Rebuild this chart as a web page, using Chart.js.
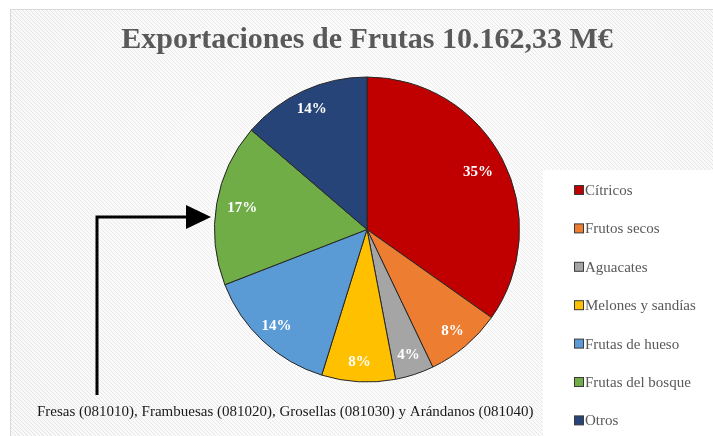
<!DOCTYPE html>
<html>
<head>
<meta charset="utf-8">
<script src="https://cdn.jsdelivr.net/npm/chart.js@4.4.0/dist/chart.umd.min.js"></script>
<style>
html,body{margin:0;padding:0;background:#fff;}
#wrap{width:713px;height:436px;position:relative;}
</style>
</head>
<body>
<div id="wrap"><canvas id="c" width="713" height="436"></canvas></div>
<script>
const titleText = 'Exportaciones de Frutas 10.162,33 M€';
const noteText = 'Fresas (081010), Frambuesas (081020), Grosellas (081030) y Arándanos (081040)';
const categories = ['Cítricos','Frutos secos','Aguacates','Melones y sandías','Frutas de hueso','Frutas del bosque','Otros'];
const shares = [34.8, 8.1, 4.1, 7.8, 14.3, 17.2, 13.7];
const colors = ['#C00000','#ED7D31','#A5A5A5','#FFC000','#5B9BD5','#70AD47','#264478'];

const serif = '"Liberation Serif","DejaVu Serif",serif';

function makePattern(ctx){
  const p = document.createElement('canvas');
  p.width = 4; p.height = 4;
  const g = p.getContext('2d');
  g.fillStyle = '#f9f9f9';
  g.fillRect(0,0,4,4);
  g.strokeStyle = '#e4e4e4';
  g.lineWidth = 1;
  g.beginPath();
  g.moveTo(-1,-1); g.lineTo(5,5);
  g.moveTo(-1,3); g.lineTo(1,5);
  g.moveTo(3,-1); g.lineTo(5,1);
  g.stroke();
  return ctx.createPattern(p,'repeat');
}

const bgPlugin = {
  id:'bg',
  beforeDraw(chart){
    const ctx = chart.ctx;
    ctx.save();
    ctx.fillStyle = '#fff';
    ctx.fillRect(0,0,chart.width,chart.height);
    ctx.fillStyle = makePattern(ctx);
    ctx.fillRect(10.5,9.5,chart.width,chart.height);
    const rg = ctx.createRadialGradient(360,220,0,360,220,380);
    rg.addColorStop(0,'rgba(255,255,255,0.55)');
    rg.addColorStop(1,'rgba(255,255,255,0)');
    ctx.fillStyle = rg;
    ctx.fillRect(10.5,9.5,chart.width,chart.height);
    ctx.strokeStyle = '#d9d9d9';
    ctx.lineWidth = 1;
    ctx.strokeRect(10.5,9.5,chart.width+5,chart.height+5);
    // title
    ctx.fillStyle = '#595959';
    ctx.font = 'bold 30px ' + serif;
    ctx.textAlign = 'center';
    ctx.textBaseline = 'alphabetic';
    ctx.fillText(titleText, 367, 48);
    // legend box
    ctx.fillStyle = '#ffffff';
    ctx.fillRect(543,170,chart.width-543,chart.height-170);
    ctx.restore();
  },
  afterDraw(chart){
    const ctx = chart.ctx;
    const meta = chart.getDatasetMeta(0);
    ctx.save();
    // data labels
    ctx.font = 'bold 15px ' + serif;
    ctx.fillStyle = '#ffffff';
    ctx.textAlign = 'center';
    ctx.textBaseline = 'middle';
    const ds = chart.data.datasets[0].data;
    const total = ds.reduce((a,b)=>a+b,0);
    meta.data.forEach((arc,i)=>{
      const p = arc.getProps(['x','y','startAngle','endAngle','outerRadius'],true);
      const mid = (p.startAngle+p.endAngle)/2;
      const r = p.outerRadius*(i===0?0.82:(i===5?0.83:0.87));
      const x = p.x + Math.cos(mid)*r;
      const y = p.y + Math.sin(mid)*r;
      ctx.fillText(Math.round(ds[i]/total*100)+'%', x, y);
    });
    // legend
    ctx.font = '15px ' + serif;
    ctx.textAlign = 'left';
    ctx.textBaseline = 'middle';
    chart.data.labels.forEach((lab,i)=>{
      const cy = 190 + i*38.4;
      ctx.fillStyle = chart.data.datasets[0].backgroundColor[i];
      ctx.fillRect(574.5, cy-4.5, 9, 9);
      ctx.strokeStyle = '#3a3a3a';
      ctx.lineWidth = 1;
      ctx.strokeRect(574.5, cy-4.5, 9, 9);
      ctx.fillStyle = '#595959';
      ctx.fillText(lab, 585, cy+1);
    });
    // arrow
    ctx.strokeStyle = '#000';
    ctx.lineWidth = 3;
    ctx.beginPath();
    ctx.moveTo(97, 395);
    ctx.lineTo(97, 217);
    ctx.lineTo(188, 217);
    ctx.stroke();
    ctx.fillStyle = '#000';
    ctx.beginPath();
    ctx.moveTo(186, 205);
    ctx.lineTo(211, 217);
    ctx.lineTo(186, 229);
    ctx.closePath();
    ctx.fill();
    // note
    ctx.font = '15px ' + serif;
    ctx.fillStyle = '#1a1a1a';
    ctx.textAlign = 'left';
    ctx.fillText(noteText, 37, 412);
    ctx.restore();
  }
};

new Chart(document.getElementById('c'), {
  type:'pie',
  data:{
    labels: categories,
    datasets:[{
      data: shares,
      backgroundColor: colors,
      borderColor: '#262626',
      borderWidth: 1
    }]
  },
  options:{
    responsive:false,
    animation:false,
    layout:{padding:{left:214, right:193, top:76, bottom:53}},
    plugins:{legend:{display:false}, title:{display:false}, tooltip:{enabled:false}}
  },
  plugins:[bgPlugin]
});
</script>
</body>
</html>
